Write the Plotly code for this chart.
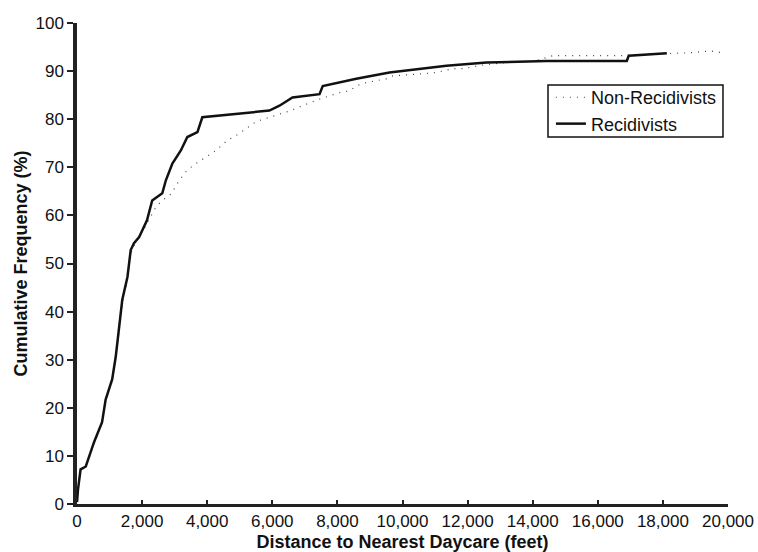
import plotly.graph_objects as go

# Recidivists cumulative distribution (traced)
rec_x = [0, 30, 110, 270, 520, 770, 880, 1080, 1190, 1290, 1390, 1550, 1650, 1750, 1910,
         2150, 2310, 2620, 2730, 2930, 3190, 3390, 3700, 3850, 4270, 4980, 5910, 6220,
         6620, 7450, 7550, 8580, 9600, 11350, 12580, 14430, 16890, 16950, 18120]
rec_y = [0.4, 3, 7.2, 7.8, 12.8, 17, 21.7, 25.9, 30.6, 36.9, 42.4, 47.2, 52.8, 54.2, 55.5,
         59, 63.1, 64.6, 67.3, 70.8, 73.5, 76.3, 77.3, 80.4, 80.7, 81.1, 81.8, 82.8,
         84.5, 85.2, 86.9, 88.4, 89.7, 91.1, 91.8, 92.1, 92.1, 93.2, 93.7]

# Non-recidivists cumulative distribution (traced)
non_x = [0, 30, 110, 270, 520, 770, 880, 1080, 1190, 1290, 1400, 1550, 1650, 1800, 2000,
         2200, 2450, 2620, 2900, 3140, 3400, 3660, 3900, 4270, 4600, 4980, 5500, 6000,
         6570, 7000, 7500, 8060, 8370, 8610, 8880, 9500, 9700, 10520, 11040, 11550, 11850,
         12500, 13200, 14000, 14620, 15500, 16680, 17500, 18830, 19450, 19850]
non_y = [0.4, 3, 7, 7.6, 12.5, 16.8, 21.5, 25.5, 30.2, 36.5, 42, 46.8, 52, 54.5, 56.5,
         59, 62, 63.1, 64.5, 67.3, 69.5, 70.8, 71.8, 73.5, 75.5, 77.0, 79.5, 80.5,
         81.8, 83, 84.3, 85.5, 85.9, 87, 87.6, 88.4, 89, 89.4, 89.7, 90.5, 90.5,
         91.3, 91.8, 92.0, 93.2, 93.2, 93.2, 93.5, 93.8, 94.2, 93.8]

x_ticks = list(range(0, 20001, 2000))
y_ticks = list(range(0, 101, 10))

fig = go.Figure()
fig.add_trace(go.Scatter(x=non_x, y=non_y, mode="lines", name="Non-Recidivists",
                         line=dict(color="#444444", width=1.2, dash="1px,6px")))
fig.add_trace(go.Scatter(x=rec_x, y=rec_y, mode="lines", name="Recidivists",
                         line=dict(color="#111111", width=2.5)))

font_family = "Liberation Sans, Arial, sans-serif"
fig.update_layout(
    width=758, height=552,
    margin=dict(l=77, r=30, t=23, b=48),
    paper_bgcolor="white", plot_bgcolor="white",
    font=dict(family=font_family, size=17, color="#111111"),
    showlegend=True,
    legend=dict(x=0.728, y=0.8835, xanchor="left", yanchor="top",
                borderwidth=0, bgcolor="rgba(0,0,0,0)",
                font=dict(size=18), tracegroupgap=0, itemwidth=30),
    shapes=[dict(type="rect", xref="paper", yref="paper",
                 x0=0.7235, x1=0.9923, y0=0.763, y1=0.871,
                 line=dict(color="#111111", width=1.5), fillcolor="rgba(0,0,0,0)",
                 layer="above")],
    xaxis=dict(range=[0, 20000], tickvals=x_ticks, tickformat=",d", automargin=False,
               showgrid=False, zeroline=False, showline=True, linecolor="#222222",
               linewidth=3, ticks="inside", ticklen=4, tickwidth=1.5, tickcolor="#222222",
               tickfont=dict(size=17),
               title=dict(text="<b>Distance to Nearest Daycare (feet)</b>",
                          font=dict(size=18), standoff=8)),
    yaxis=dict(range=[0, 100], tickvals=y_ticks, automargin=False,
               showgrid=False, zeroline=False, showline=True, linecolor="#222222",
               linewidth=3.5, ticks="outside", ticklen=6, tickwidth=1.5, tickcolor="#222222",
               tickfont=dict(size=17),
               title=dict(text="<b>Cumulative Frequency (%)</b>",
                          font=dict(size=18), standoff=4)),
)

fig.write_html("out.html", config={"displayModeBar": False},
               post_script="document.body.style.margin='0';")
